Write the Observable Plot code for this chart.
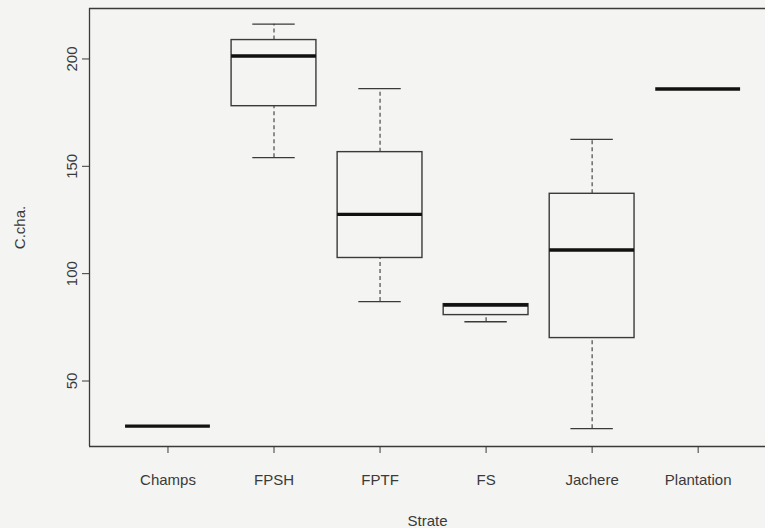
<!DOCTYPE html>
<html>
<head>
<meta charset="utf-8">
<script src="https://cdn.jsdelivr.net/npm/d3@7"></script>
<script src="https://cdn.jsdelivr.net/npm/@observablehq/plot@0.6"></script>
<style>
  html, body { margin: 0; padding: 0; background: #f4f4f2; }
  #chart svg { display: block; }
</style>
</head>
<body>
<div id="chart"></div>
<script>
const categories = ["Champs", "FPSH", "FPTF", "FS", "Jachere", "Plantation"];
const lowerWhisker = [29, 154, 87, 77.6, 27.8, 186];
const q1 = [29, 178, 107.3, 80.7, 70, 186];
const median = [29, 201.4, 127.6, 85.4, 111, 186];
const q3 = [29, 208.8, 156.6, 85.8, 137.2, 186];
const upperWhisker = [29, 216.2, 186.2, 85.8, 162.5, 186];
const yTicks = [50, 100, 150, 200];
const xLabel = "Strate";
const yLabel = "C.cha.";

const rows = categories.map((c, i) => ({
  cat: c, pos: i + 1,
  lo: lowerWhisker[i], q1: q1[i], med: median[i], q3: q3[i], hi: upperWhisker[i]
}));

const ink = "#3a3a3a";
const font = "Liberation Sans, Arial, sans-serif";

const chart = Plot.plot({
  width: 765,
  height: 528,
  marginLeft: 89,
  marginRight: 0,
  marginTop: 8,
  marginBottom: 82,
  style: { background: "#f4f4f2", fontFamily: font, fontSize: "15px", color: ink },
  x: { type: "linear", domain: [0.26, 6.635] },
  y: { type: "linear", domain: [19.5, 223.5] },
  marks: [
    // plot box (left, top, bottom)
    Plot.ruleY([19.5, 223.5], { stroke: ink, strokeWidth: 1.3 }),
    Plot.ruleX([0.26], { stroke: ink, strokeWidth: 1.3 }),
    // whiskers (dashed)
    Plot.ruleX(rows, { x: "pos", y1: "q3", y2: "hi", stroke: ink, strokeWidth: 1.1, strokeDasharray: "4,3" }),
    Plot.ruleX(rows, { x: "pos", y1: "lo", y2: "q1", stroke: ink, strokeWidth: 1.1, strokeDasharray: "4,3" }),
    // staples
    Plot.ruleY(rows, { y: "hi", x1: d => d.pos - 0.2, x2: d => d.pos + 0.2, stroke: ink, strokeWidth: 1.3 }),
    Plot.ruleY(rows, { y: "lo", x1: d => d.pos - 0.2, x2: d => d.pos + 0.2, stroke: ink, strokeWidth: 1.3 }),
    // boxes
    Plot.rect(rows, { x1: d => d.pos - 0.4, x2: d => d.pos + 0.4, y1: "q1", y2: "q3", fill: "none", stroke: ink, strokeWidth: 1.4 }),
    // medians
    Plot.ruleY(rows, { y: "med", x1: d => d.pos - 0.4, x2: d => d.pos + 0.4, stroke: "#111", strokeWidth: 3.4 }),
    // axes
    Plot.axisX({
      ticks: categories.map((c, i) => i + 1),
      tickFormat: v => categories[Math.round(v) - 1],
      tickSize: 7, tickPadding: 21, stroke: ink, fill: ink, fontSize: 15, label: null
    }),
    Plot.axisY({
      ticks: yTicks, tickSize: 7, tickPadding: 6, tickRotate: -90,
      stroke: ink, fill: ink, fontSize: 15, label: null
    }),
    // axis titles
    Plot.text([xLabel], { text: d => d, frameAnchor: "bottom", dy: 79, lineAnchor: "bottom", textAnchor: "middle", fill: ink, fontSize: 15 }),
    Plot.text([yLabel], { text: d => d, frameAnchor: "left", dx: -69, rotate: -90, textAnchor: "middle", fill: ink, fontSize: 15 })
  ]
});

document.getElementById("chart").appendChild(chart);
</script>
</body>
</html>
